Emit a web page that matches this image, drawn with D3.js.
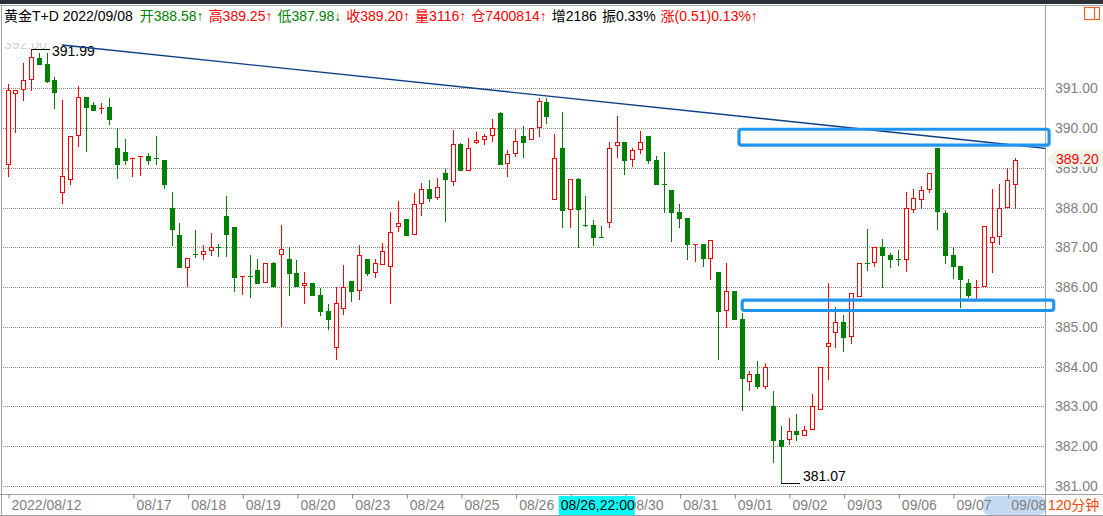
<!DOCTYPE html>
<html><head><meta charset="utf-8">
<script src="https://cdn.jsdelivr.net/npm/d3@7"></script>
<style>
html,body{margin:0;padding:0;background:#fff;overflow:hidden}
svg{display:block;font-family:"Liberation Sans",Arial,"Noto Sans CJK SC",sans-serif}
</style></head><body><svg id="c" width="1103" height="516"></svg>
<script>
// ---- data ----
const opens=[389.09,390.87,390.97,391.23,391.76,391.62,391.21,388.40,388.71,389.82,
390.78,390.58,390.48,390.52,389.50,389.40,389.21,389.26,389.30,389.25,
389.20,387.99,387.31,386.51,386.83,386.82,386.92,387.01,387.78,387.51,
386.26,386.29,386.43,386.12,386.61,386.82,386.71,386.35,386.04,386.10,
385.80,385.40,384.50,385.47,386.14,385.92,386.70,386.39,386.57,386.52,
387.53,387.70,387.33,388.11,388.47,388.26,388.86,388.66,389.60,388.94,
389.64,389.72,389.82,390.38,389.11,389.36,389.80,389.72,390.02,390.65,
388.21,389.49,387.96,388.72,387.56,387.55,387.27,387.63,389.57,389.65,
389.21,389.47,389.80,389.20,388.59,388.44,387.89,387.74,387.07,387.08,
386.72,386.37,385.42,385.90,385.19,383.63,383.80,383.52,383.01,382.15,
382.17,382.38,382.27,382.42,382.92,384.51,384.86,385.11,384.76,385.77,
386.61,386.62,387.00,386.80,386.71,386.70,387.96,388.21,388.46,389.49,
387.86,386.81,386.53,386.10,385.99,386.02,387.13,387.28,388.01,388.58];
const highs=[391.11,390.96,391.63,391.99,391.90,391.90,391.28,390.71,389.79,391.06,
390.78,390.66,390.62,390.75,390.00,389.72,389.25,389.30,389.37,389.80,
389.20,388.40,387.61,386.72,387.44,387.06,387.35,387.08,388.29,387.51,
386.28,386.81,386.71,386.60,386.64,387.56,387.00,386.68,386.38,386.10,
385.98,385.57,386.00,386.55,386.14,387.05,386.70,386.70,387.10,387.89,
388.16,387.70,388.37,388.62,388.69,388.74,389.00,389.95,389.62,389.74,
389.90,389.85,390.22,390.40,389.45,389.98,390.05,390.00,390.75,390.75,
389.85,390.40,388.71,388.74,388.29,387.69,387.54,389.65,390.30,389.65,
389.50,389.93,389.80,389.30,389.40,388.44,388.09,387.74,387.08,387.08,
387.18,386.37,386.61,385.90,385.34,383.89,384.14,384.08,383.38,382.50,
382.71,382.81,382.50,383.31,383.98,386.09,385.49,385.29,385.84,386.60,
387.46,387.00,387.21,386.85,386.93,388.39,388.47,388.54,388.86,389.49,
387.94,387.01,386.53,386.20,386.18,387.53,388.47,388.59,389.00,389.25];
const lows=[388.80,389.91,390.71,390.96,391.62,391.17,390.51,388.11,388.60,389.56,
389.43,390.46,390.37,390.11,388.75,389.10,388.80,388.83,389.10,389.10,
388.49,387.07,386.51,386.03,386.76,386.70,386.81,386.78,386.78,385.90,
385.83,385.76,386.11,386.12,386.01,385.03,385.80,386.03,385.61,385.81,
385.30,384.95,384.20,385.32,385.66,385.71,386.31,386.26,386.57,385.61,
387.42,387.32,387.33,387.82,388.17,388.21,387.67,388.57,388.94,388.94,
389.62,389.61,389.68,389.10,388.80,389.30,389.28,389.72,389.81,390.12,
388.21,387.52,387.52,387.02,387.54,387.07,387.25,387.52,389.28,388.85,
389.05,389.38,389.13,388.60,387.90,387.17,387.52,386.71,386.66,386.54,
386.21,384.20,385.00,385.20,382.91,383.42,383.47,383.47,381.61,381.07,
382.04,382.16,382.27,382.42,382.92,383.68,384.48,384.38,384.58,385.77,
386.44,386.54,386.01,386.51,386.56,386.41,387.90,387.98,388.40,387.47,
386.61,386.24,385.51,385.76,385.70,386.02,386.39,387.09,388.01,387.98];
const closes=[390.96,390.95,391.20,391.78,391.62,391.18,390.91,388.79,389.79,390.77,
390.54,390.46,390.50,390.22,389.10,389.20,389.25,389.30,389.20,389.22,
388.60,387.47,386.51,386.72,386.81,386.90,387.00,386.99,387.34,386.26,
386.27,386.26,386.11,386.60,386.03,386.95,386.36,386.03,386.10,385.81,
385.41,385.20,385.59,386.00,385.91,386.80,386.36,386.60,386.90,387.38,
387.60,387.32,388.08,388.46,388.25,388.51,388.71,389.59,388.94,389.49,
389.69,389.79,390.00,389.10,389.34,389.67,389.66,390.00,390.67,390.31,
389.24,387.95,388.71,387.97,387.54,387.27,387.25,389.49,389.64,389.20,
389.44,389.64,389.20,388.60,388.57,387.90,387.74,387.09,387.08,386.74,
387.18,385.40,385.89,385.20,383.72,383.80,383.52,383.98,382.16,382.01,
382.37,382.31,382.40,383.00,383.98,384.58,385.11,384.75,385.84,386.60,
386.58,387.00,386.81,386.71,386.69,387.98,388.23,388.43,388.86,387.92,
386.81,386.54,386.21,385.81,386.01,387.53,387.25,387.98,388.69,389.20];
const priceTicks=[381,382,383,384,385,386,387,388,389,390,391];
const dateTickIdx=[0,16,23,30,37,44,51,58,65,72,79,86,93,100,107,114,121,128];
const dateTickLabels=["2022/08/12","08/17","08/18","08/19","08/20","08/23","08/24","08/25","08/26","08/29","08/30","08/31","09/01","09/02","09/03","09/06","09/07","09/08"];
const headerTexts=["黄金T+D 2022/09/08","开388.58↑","高389.25↑","低387.98↓","收389.20↑","量3116↑","仓7400814↑","增2186","振0.33%","涨(0.51)0.13%↑"];
const headerColors=["#000","#008000","#ff0000","#008000","#ff0000","#ff0000","#ff0000","#000","#000","#ff0000"];
const trendIdx=[6.9,132.8], trendVal=[392.09,389.49];
const zoneIdx=[[93.6,133.3],[94.0,133.9]];
const zoneVal=[[389.97,389.57],[385.67,385.41]];
const highMark={i:3,v:391.99}, lowMark={i:99,v:381.07};
const lastPrice=389.20;
const crossLabel="08/26,22:00", crossIdx=75;
const periodLabel="120分钟";

// ---- drawing ----
const svg=d3.select("#c");
const RED="#ff0000", GREEN="#008000", GRAY="#808080";
const x=d3.scaleLinear().domain([0,129]).range([8,1015.5]);
const y=d3.scaleLinear().domain([381,391]).range([485.8,88.3]);
const plotL=2, plotR=1045, axisT=494;

svg.append("rect").attr("width",1103).attr("height",516).attr("fill","#fff");
svg.append("rect").attr("width",1103).attr("height",4).attr("fill","#2c3037");
const fr=svg.append("g").attr("stroke","#a0a0a0").attr("stroke-width",1).attr("shape-rendering","crispEdges");
fr.append("line").attr("x1",0).attr("x2",1103).attr("y1",5.5).attr("y2",5.5);
fr.append("line").attr("x1",1.5).attr("x2",1.5).attr("y1",5).attr("y2",516);
fr.append("line").attr("x1",plotR+0.5).attr("x2",plotR+0.5).attr("y1",5).attr("y2",516);
fr.append("line").attr("x1",0).attr("x2",1103).attr("y1",axisT+0.5).attr("y2",axisT+0.5);
fr.append("line").attr("x1",0).attr("x2",1103).attr("y1",515.5).attr("y2",515.5);

// header
let hx=4;
headerTexts.forEach((t,k)=>{
  const el=svg.append("text").attr("x",hx).attr("y",21).attr("font-size",14).attr("fill",headerColors[k]).text(t);
  hx+=el.node().getComputedTextLength()+(k===0?7:5);
});
const ic=svg.append("g").attr("fill","none").attr("stroke","#e8662a").attr("stroke-width",1.2);
ic.append("rect").attr("x",1084.5).attr("y",7.5).attr("width",15).attr("height",12);
ic.append("line").attr("x1",1094.5).attr("x2",1094.5).attr("y1",7.5).attr("y2",19.5);

// faded top label (mostly hidden)
const cp=svg.append("defs").append("clipPath").attr("id","topclip");
cp.append("rect").attr("x",0).attr("y",43).attr("width",60).attr("height",6);
svg.append("text").attr("x",4).attr("y",y(392)).attr("font-size",14).attr("fill","#d4d4d4")
  .attr("clip-path","url(#topclip)").text(d3.format(".2f")(392));

// gridlines
svg.append("g").selectAll("line").data(priceTicks).join("line")
  .attr("x1",plotL+1).attr("x2",plotR).attr("y1",d=>Math.round(y(d))+0.5).attr("y2",d=>Math.round(y(d))+0.5)
  .attr("stroke","#8a8a8a").attr("stroke-width",1).attr("stroke-dasharray","1,1").attr("shape-rendering","crispEdges");

// right axis
const ya=d3.axisRight(y).tickValues(priceTicks).tickFormat(d3.format(".2f")).tickSize(0).tickPadding(9);
const yg=svg.append("g").attr("transform",`translate(${plotR+1},0)`).call(ya);
yg.select(".domain").remove();
yg.selectAll("text").attr("font-size",14).attr("fill",GRAY).attr("font-family","Liberation Sans, Arial, sans-serif");

// candles
const data=opens.map((o,i)=>({i,o,h:highs[i],l:lows[i],c:closes[i]}));
const cg=svg.append("g").attr("shape-rendering","crispEdges");
data.forEach(d=>{
  const cx=Math.floor(x(d.i));
  const up=d.c>=d.o;
  const col=up?RED:GREEN;
  const yt=Math.round(y(Math.max(d.o,d.c))), yb=Math.round(y(Math.min(d.o,d.c)));
  const yh=Math.round(y(d.h)), yl=Math.round(y(d.l));
  cg.append("line").attr("x1",cx+0.5).attr("x2",cx+0.5).attr("y1",yh).attr("y2",yl+1).attr("stroke",col);
  if(yb-yt<2){
    cg.append("rect").attr("x",cx-2).attr("y",yt).attr("width",5).attr("height",Math.max(1,yb-yt)).attr("fill",col);
  } else if(up){
    cg.append("rect").attr("x",cx-1.5).attr("y",yt+0.5).attr("width",4).attr("height",yb-yt).attr("fill","#fff").attr("stroke",col);
  } else {
    cg.append("rect").attr("x",cx-2).attr("y",yt).attr("width",5).attr("height",yb-yt+1).attr("fill",col);
  }
});

// extreme labels
const hx0=Math.floor(x(highMark.i)), hy0=Math.round(y(highMark.v))+0.5;
svg.append("line").attr("x1",hx0).attr("x2",hx0+19).attr("y1",hy0).attr("y2",hy0).attr("stroke","#000");
svg.append("text").attr("x",hx0+21).attr("y",hy0+6).attr("font-size",14).attr("fill","#000").text(highMark.v.toFixed(2));
const lx0=Math.floor(x(lowMark.i)), ly0=Math.round(y(lowMark.v))+0.5;
svg.append("line").attr("x1",lx0).attr("x2",lx0+19).attr("y1",ly0).attr("y2",ly0).attr("stroke","#000");
svg.append("text").attr("x",lx0+22).attr("y",ly0-3).attr("font-size",14).attr("fill","#000").text(lowMark.v.toFixed(2));

// trend line
svg.append("line").attr("x1",x(trendIdx[0])).attr("y1",y(trendVal[0])).attr("x2",x(trendIdx[1])).attr("y2",y(trendVal[1]))
  .attr("stroke","#0a3f85").attr("stroke-width",1.4);

// zones
svg.append("g").selectAll("rect").data(zoneIdx).join("rect")
  .attr("x",d=>x(d[0])).attr("width",d=>x(d[1])-x(d[0]))
  .attr("y",(d,k)=>y(zoneVal[k][0])).attr("height",(d,k)=>y(zoneVal[k][1])-y(zoneVal[k][0]))
  .attr("rx",2.5).attr("fill","none").attr("stroke","#1e96f0").attr("stroke-width",3.2);

// last price marker
const lpY=y(lastPrice);
svg.append("path").attr("d",`M${plotR+2},${lpY} L${plotR+10},${lpY-10} L1103,${lpY-10} L1103,${lpY+7} L${plotR+10},${lpY+7}Z`).attr("fill","#edf5e9");
svg.append("text").attr("x",1056).attr("y",lpY+4).attr("font-size",14).attr("fill",RED).text(lastPrice.toFixed(2));

// bottom axis
svg.append("rect").attr("x",983).attr("y",496).attr("width",62).attr("height",19).attr("rx",6).attr("fill","#c5d9f3");
const xa=d3.axisBottom(x).tickValues(dateTickIdx).tickFormat((d,k)=>dateTickLabels[k]).tickSize(4).tickSizeOuter(0);
const xg=svg.append("g").attr("transform",`translate(0,${axisT+0.5})`).call(xa);
xg.select(".domain").remove();
xg.selectAll(".tick line").attr("stroke",GRAY).attr("transform","translate(0.5,0)");
xg.selectAll(".tick text").attr("text-anchor","start").attr("dx",3).attr("y",0).attr("dy",15.5)
  .attr("font-size",14).attr("fill",GRAY).attr("font-family","Liberation Sans, Arial, sans-serif");
// crosshair label
const cbx=x(crossIdx)-35;
svg.append("rect").attr("x",cbx).attr("y",496).attr("width",76).attr("height",19).attr("fill","#00ffff");
svg.append("text").attr("x",cbx+2).attr("y",510).attr("font-size",14).attr("fill","#000").text(crossLabel);
// period label
svg.append("rect").attr("x",plotR+1).attr("y",495).attr("width",57).attr("height",20).attr("fill","#fff");
svg.append("text").attr("x",1048).attr("y",510).attr("font-size",14).attr("fill","#ff4500").text(periodLabel);
</script></body></html>
